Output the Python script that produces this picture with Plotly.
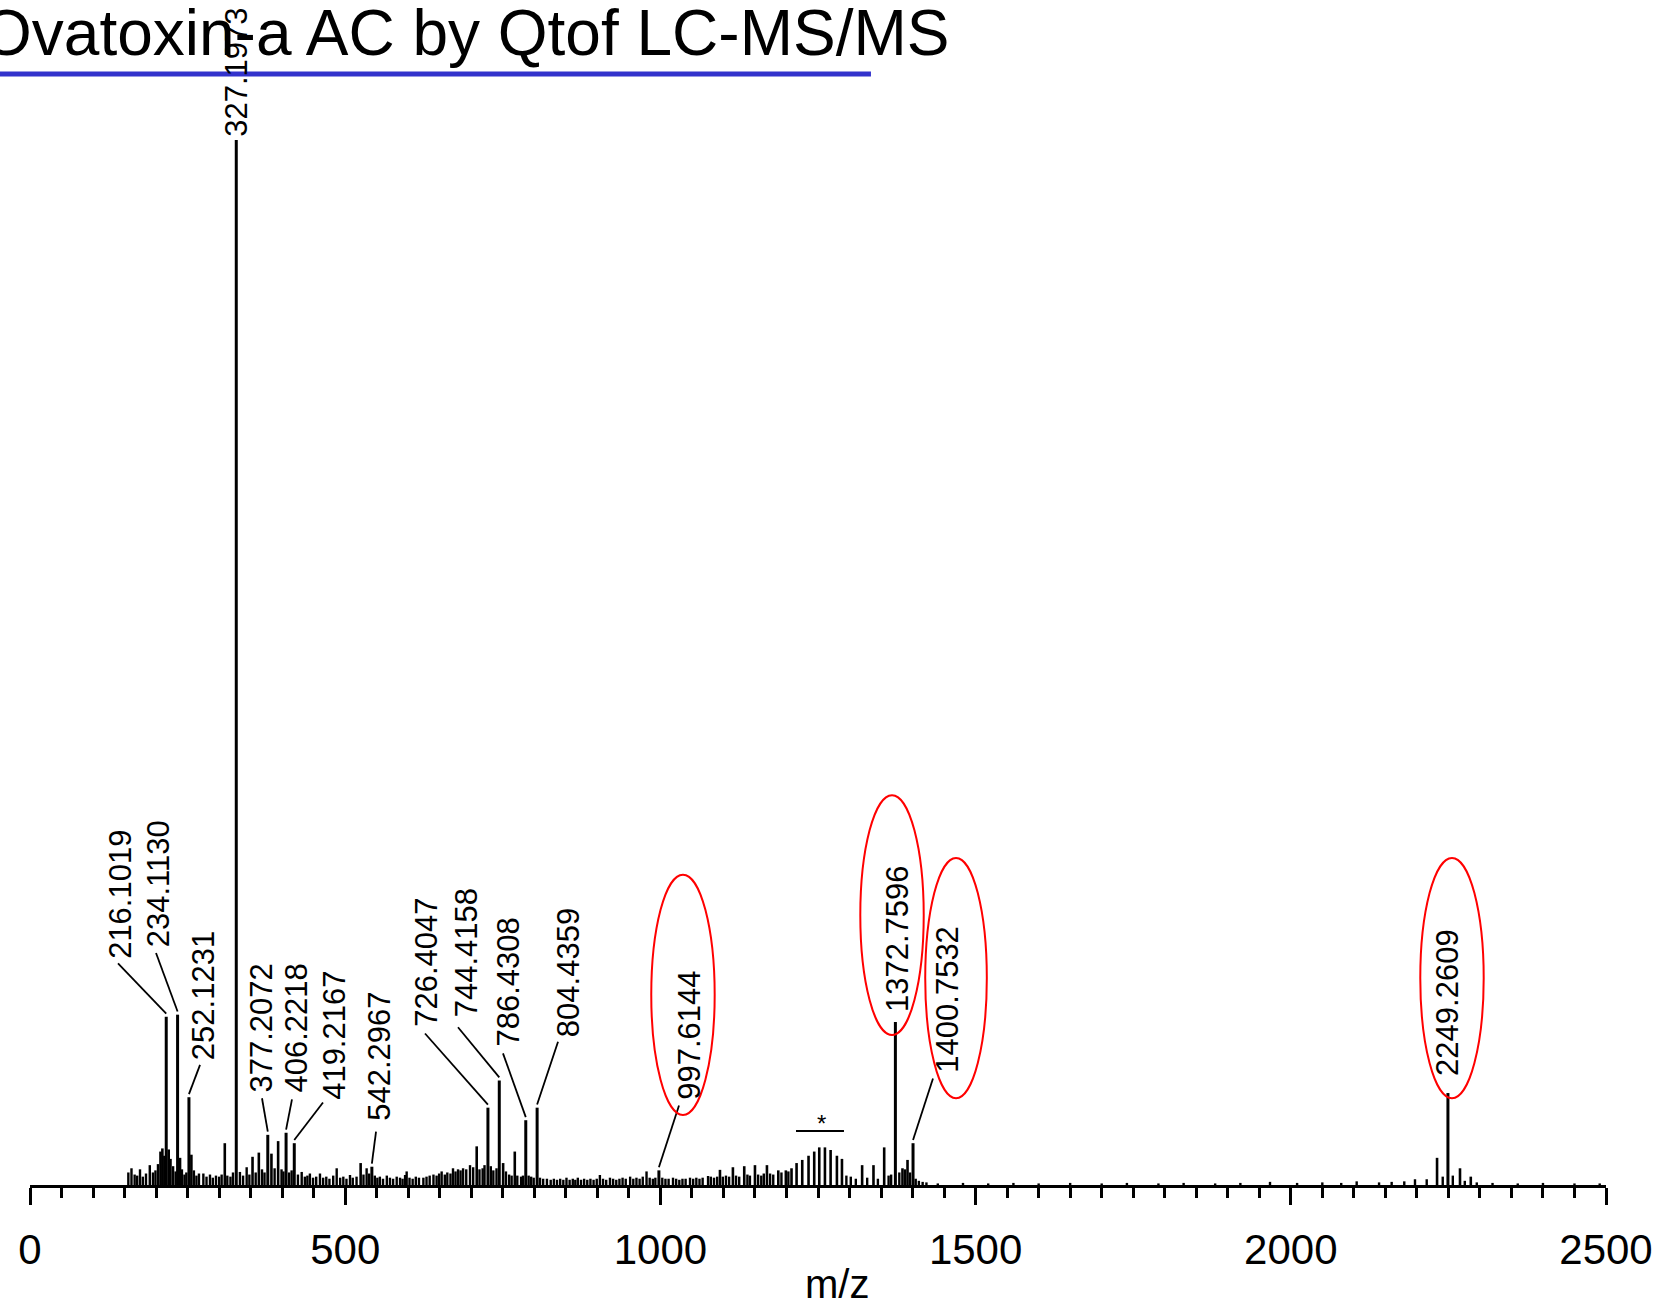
import plotly.graph_objects as go

# ---------------- data ----------------
peak_mz = [216.1019, 234.1130, 252.1231, 327.1973, 377.2072, 406.2218, 419.2167,
           542.2967, 726.4047, 744.4158, 786.4308, 804.4359, 997.6144,
           1372.7596, 1400.7532, 2249.2609]
peak_int = [16.1, 16.3, 8.4, 100.0, 4.8, 5.0, 4.0,
            1.75, 7.4, 10.0, 6.2, 7.4, 1.4,
            15.6, 4.0, 8.8]
peak_labels = ["216.1019", "234.1130", "252.1231", "327.1973", "377.2072", "406.2218",
               "419.2167", "542.2967", "726.4047", "744.4158", "786.4308", "804.4359",
               "997.6144", "1372.7596", "1400.7532", "2249.2609"]
circled = ["997.6144", "1372.7596", "1400.7532", "2249.2609"]

# unlabeled fragment / cluster peaks
minor_mz = [207, 210, 220, 238, 256, 309, 353, 363, 383, 393.6, 524.5, 708.6, 750.5, 769,
            1094.5, 1115, 1133, 1150, 1169, 1187, 1199, 1208, 1216, 1225, 1235, 1244,
            1252, 1261, 1270, 1280, 1288, 1320, 1338, 1355, 1384, 1392,
            2232, 2268.4, 2285.5]
minor_int = [3.2, 3.5, 3.4, 2.6, 2.9, 4.0, 2.7, 3.1, 3.0, 4.2, 2.1, 3.7, 2.1, 3.2,
             1.45, 1.7, 1.8, 1.9, 1.9, 1.4, 1.4, 1.6, 2.1, 2.4, 2.8, 3.2,
             3.6, 3.6, 3.35, 2.8, 2.5, 1.9, 1.9, 3.6, 1.6, 2.4,
             2.6, 1.6, 0.8]

# baseline noise
noise_mz = [156, 161, 166, 170, 174.5, 179, 184, 190, 195, 199, 203, 213, 223, 227, 231,
            241, 245, 248, 260, 264, 268, 275, 280, 285.5, 290, 295, 300, 304, 313, 318,
            322, 333, 338, 343.7, 348, 358, 368, 372, 388, 399, 402, 411, 415, 425, 431,
            436, 440, 444, 449, 454, 460, 465, 470, 475, 481, 486.5, 492, 497, 502, 507.6,
            512, 518, 529, 534, 538, 547, 551, 555, 560, 566, 571, 576, 581.7, 587, 591,
            595, 597.5, 602, 607, 612, 617, 624, 629, 634, 640, 645, 649, 653, 658, 662,
            667, 671, 675, 679, 683, 687, 692, 698, 703, 713, 718, 721, 731, 735, 740,
            755, 760, 764, 773, 779, 782, 791, 795, 799, 809, 814, 820, 826, 831, 836,
            841, 846, 851, 856, 861, 865, 869, 874, 879, 884, 889, 894, 899, 904, 909,
            914, 920, 925, 930, 935, 940, 945, 952, 957, 962, 967, 972, 978, 983, 988,
            992, 1003, 1008, 1013, 1020, 1025, 1030, 1035, 1040, 1047, 1052, 1057, 1062,
            1067, 1075.6, 1080, 1085, 1090, 1099, 1104, 1109, 1120, 1125, 1138, 1142,
            1155, 1160, 1164, 1174, 1179, 1192, 1203, 1295, 1302, 1310, 1328, 1345, 1362,
            1366, 1379, 1388, 1396, 1405, 1410, 1416, 1422, 1440, 1480, 1520, 1560, 1600,
            1650, 1700, 1740, 1790, 1830, 1880, 1920, 1967, 2010, 2050, 2080, 2104.5,
            2140, 2160, 2180, 2197, 2215.6, 2241, 2257, 2276, 2295, 2320, 2360, 2400,
            2450, 2490]
noise_int = [1.2, 1.6, 1.0, 0.9, 1.5, 0.8, 1.1, 1.9, 1.2, 1.4, 2.0, 2.8, 2.5, 1.8, 1.3,
             1.5, 1.0, 1.2, 1.4, 0.9, 1.1, 1.1, 0.8, 1.0, 0.7, 0.9, 0.8, 1.0, 0.9, 0.8,
             1.2, 1.25, 0.9, 1.7, 1.0, 1.2, 1.5, 1.2, 1.6, 1.5, 1.3, 1.2, 1.4, 1.0, 1.25,
             0.8, 0.9, 1.1, 0.7, 0.8, 1.1, 0.7, 0.8, 0.6, 0.9, 1.6, 0.7, 0.8, 0.6, 0.96,
             0.7, 0.8, 1.0, 1.6, 1.1, 0.9, 0.7, 0.8, 0.6, 0.9, 0.7, 0.6, 0.8, 0.7, 0.6,
             0.96, 1.3, 0.7, 0.6, 0.8, 0.7, 0.7, 0.8, 0.9, 1.0, 0.9, 1.1, 1.3, 1.0, 1.2,
             1.1, 1.6, 1.3, 1.5, 1.4, 1.6, 1.5, 1.9, 1.7, 1.5, 1.6, 1.9, 1.8, 1.4, 1.6,
             1.3, 1.0, 0.9, 0.9, 0.8, 0.9, 0.9, 0.8, 0.7, 0.7, 0.6, 0.6, 0.5, 0.6, 0.5,
             0.6, 0.5, 0.7, 0.5, 0.6, 0.5, 0.7, 0.5, 0.6, 0.5, 0.6, 0.5, 0.6, 0.96, 0.6,
             0.5, 0.7, 0.6, 0.5, 0.6, 0.7, 0.6, 0.8, 0.6, 0.7, 0.6, 0.8, 1.3, 0.7, 0.6,
             0.7, 0.7, 0.6, 0.6, 0.7, 0.6, 0.5, 0.6, 0.6, 0.7, 0.6, 0.7, 0.6,
             0.7, 0.86, 0.8, 0.7, 0.8, 0.8, 0.9, 0.8, 0.9, 0.8, 1.0, 0.9,
             1.0, 0.9, 1.1, 1.1, 1.0, 1.2, 1.3, 0.9, 0.8, 0.6, 0.7, 0.6, 0.9,
             1.0, 1.2, 1.5, 1.2, 0.6, 0.4, 0.3, 0.25, 0.15, 0.2, 0.15, 0.2, 0.15,
             0.2, 0.15, 0.2, 0.15, 0.2, 0.15, 0.2, 0.3, 0.2, 0.25, 0.2, 0.35,
             0.25, 0.3, 0.35, 0.55, 0.55, 0.8, 0.9, 0.4, 0.25, 0.2, 0.15, 0.2,
             0.15, 0.15]

x_ticks = [0, 500, 1000, 1500, 2000, 2500]
x_title = "m/z"
chart_title = "Ovatoxin-a AC by Qtof LC-MS/MS"

# ---------------- label placement (layout, in axis units) ----------------
# label -> (text centre x, text bottom y, leader end x, leader end y)
label_pos = {
    "216.1019": (144.4, 21.5, 139.6, 21.2),
    "234.1130": (203.0, 22.7, 199.9, 22.2),
    "252.1231": (274.4, 11.9, 269.7, 11.5),
    "327.1973": (327.2, 100.2, None, None),
    "377.2072": (368.0, 8.8, 368.0, 8.3),
    "406.2218": (423.5, 8.8, 415.6, 8.2),
    "419.2167": (483.8, 8.1, 464.8, 7.9),
    "542.2967": (555.2, 6.0, 548.9, 5.1),
    "726.4047": (629.8, 15.0, 626.6, 14.5),
    "744.4158": (691.6, 16.0, 678.9, 15.1),
    "786.4308": (759.8, 13.2, 750.3, 12.6),
    "804.4359": (853.4, 14.1, 837.6, 13.7),
    "997.6144": (1046.9, 8.1, 1029.5, 7.6),
    "1372.7596": (1375.3, 16.5, None, None),
    "1400.7532": (1456.2, 10.7, 1432.4, 10.2),
    "2249.2609": (2249.4, 10.3, None, None),
}
# ellipse boxes: x0, x1, y0, y1
ellipse_box = {
    "997.6144": (985.5, 1086.1, 6.7, 29.7),
    "1372.7596": (1317.1, 1417.7, 14.35, 37.3),
    "1400.7532": (1420.1, 1517.8, 8.3, 31.3),
    "2249.2609": (2205.4, 2306.0, 8.3, 31.3),
}

FONT = "Liberation Sans, Arial, sans-serif"


def sticks(xs, ys):
    X, Y = [], []
    for x, y in zip(xs, ys):
        X += [x, x, None]
        Y += [0, y, None]
    return X, Y


fig = go.Figure()
nx, ny = sticks(noise_mz, noise_int)
fig.add_trace(go.Scatter(x=nx, y=ny, mode="lines", line=dict(color="black", width=2.4),
                         hoverinfo="skip", showlegend=False))
mx, my = sticks(minor_mz, minor_int)
fig.add_trace(go.Scatter(x=mx, y=my, mode="lines", line=dict(color="black", width=2.6),
                         hoverinfo="skip", showlegend=False))
px_, py_ = sticks(peak_mz, peak_int)
fig.add_trace(go.Scatter(x=px_, y=py_, mode="lines", line=dict(color="black", width=3),
                         hoverinfo="skip", showlegend=False))

annotations = []
shapes = []
for mz, h, lab in zip(peak_mz, peak_int, peak_labels):
    tx, ty, lx, ly = label_pos[lab]
    annotations.append(dict(x=tx, y=ty, xref="x", yref="y", text=lab, textangle=-90,
                            showarrow=False, xanchor="center", yanchor="bottom",
                            borderpad=0, font=dict(family=FONT, size=31, color="black")))
    if lx is not None:
        shapes.append(dict(type="line", xref="x", yref="y", x0=mz, y0=h + 0.3, x1=lx, y1=ly,
                           line=dict(color="black", width=1.8)))
    if lab in ellipse_box:
        x0, x1, y0, y1 = ellipse_box[lab]
        shapes.append(dict(type="circle", xref="x", yref="y", x0=x0, x1=x1, y0=y0, y1=y1,
                           line=dict(color="#ff0000", width=2)))

# "*" cluster marker
shapes.append(dict(type="line", xref="x", yref="y", x0=1215.1, x1=1291.2, y0=5.17, y1=5.17,
                   line=dict(color="black", width=2)))
annotations.append(dict(x=1254.8, y=5.9, xref="x", yref="y", text="*", showarrow=False,
                        xanchor="center", yanchor="middle",
                        font=dict(family=FONT, size=24, color="black")))

# axis title (placed in paper units below the axis)
annotations.append(dict(x=0.512, y=-0.0835, xref="paper", yref="paper", text=x_title,
                        showarrow=False, xanchor="center", yanchor="middle", borderpad=0,
                        font=dict(family=FONT, size=40, color="black")))
# chart title
annotations.append(dict(x=-0.0317, y=1.004, xref="paper", yref="paper", text=chart_title,
                        showarrow=False, xanchor="left", yanchor="top",
                        font=dict(family=FONT, size=64, color="black")))
# blue underline
shapes.append(dict(type="line", xref="paper", yref="paper", x0=-0.02, x1=0.5336,
                   y0=0.9376, y1=0.9376, line=dict(color="#3333cc", width=5)))

fig.update_layout(
    width=1660, height=1308,
    margin=dict(l=30, r=54, t=0, b=123),
    paper_bgcolor="white", plot_bgcolor="white",
    annotations=annotations, shapes=shapes,
    xaxis=dict(range=[0, 2500], tickvals=x_ticks, ticktext=[str(v) for v in x_ticks],
               showgrid=False, zeroline=False, showline=True, linecolor="black", linewidth=3,
               ticks="outside", ticklen=17, tickwidth=2.5, tickcolor="black",
               minor=dict(ticks="outside", dtick=50, ticklen=10, tickwidth=2.5,
                          tickcolor="black", showgrid=False),
               tickfont=dict(family=FONT, size=42, color="black"),
               ticklabelstandoff=9),
    yaxis=dict(range=[0, 113.4], visible=False, showgrid=False, zeroline=False),
    showlegend=False,
)

fig.write_html("out.html")
